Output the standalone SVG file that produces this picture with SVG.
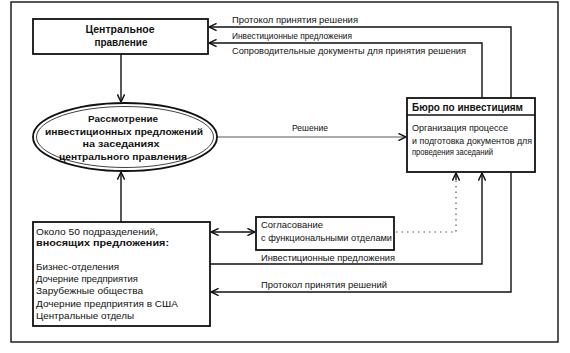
<svg xmlns="http://www.w3.org/2000/svg" width="570" height="353" viewBox="0 0 570 353">
<defs>
<marker id="arr" viewBox="0 0 10 10" refX="9.5" refY="5" markerWidth="8" markerHeight="8" markerUnits="userSpaceOnUse" orient="auto-start-reverse">
<path d="M0,0.5 L9.5,5 L0,9.5" fill="none" stroke="#111" stroke-width="1.8"/>
</marker>
<style>
text{font-family:"Liberation Sans",Arial,sans-serif;fill:#111}
.s{font-size:9px}
.m{font-size:9.5px}
.b{font-size:10px;font-weight:bold}
.e{font-size:9px;font-weight:bold}
.box{fill:#fff;stroke:#111;stroke-width:1.8}
.ln{fill:none;stroke:#111;stroke-width:1.4}
.thin{fill:none;stroke:#444;stroke-width:0.9}
.dot{fill:none;stroke:#555;stroke-width:1.2;stroke-dasharray:1.5 4}
</style>
</defs>
<rect x="0" y="0" width="570" height="353" fill="#fff"/>
<rect id="frame" x="11" y="2" width="547" height="340" fill="none" stroke="#111" stroke-width="1.4"/>

<g id="connectors">
<path class="ln" d="M121,54 L121,102" marker-end="url(#arr)"/>
<path class="ln" d="M121,222 L121,172" marker-end="url(#arr)"/>
<path class="thin" d="M217,137 L406,137" marker-end="url(#arr)"/>
<path class="ln" d="M511,98 L511,27 L209,27" marker-end="url(#arr)"/>
<path class="ln" d="M482,98 L482,43 L209,43" marker-end="url(#arr)"/>
<path class="ln" d="M211,232 L255,232" marker-start="url(#arr)" marker-end="url(#arr)"/>
<path class="dot" d="M396,232 L456,232 L456,176"/>
<path class="ln" d="M456,180 L456,173" marker-end="url(#arr)"/>
<path class="ln" d="M210,264 L482,264 L482,173" marker-end="url(#arr)"/>
<path class="ln" d="M511,172 L511,292 L211,292" marker-end="url(#arr)"/>
<text class="s" x="232" y="23" textLength="126" lengthAdjust="spacingAndGlyphs">Протокол принятия решения</text>
<text class="s" x="232" y="39" textLength="120" lengthAdjust="spacingAndGlyphs">Инвестиционные предложения</text>
<text class="s" x="232" y="54" textLength="234" lengthAdjust="spacingAndGlyphs">Сопроводительные документы для принятия решения</text>
<text class="s" x="292" y="131" textLength="36" lengthAdjust="spacingAndGlyphs">Решение</text>
<text class="s" x="261" y="261" textLength="134" lengthAdjust="spacingAndGlyphs">Инвестиционные предложения</text>
<text class="s" x="261" y="288" textLength="126" lengthAdjust="spacingAndGlyphs">Протокол принятия решений</text>
</g>

<g id="central">
<rect class="box" x="33" y="19" width="175" height="35"/>
<text class="b" x="120" y="33" text-anchor="middle" textLength="69" lengthAdjust="spacingAndGlyphs">Центральное</text>
<text class="b" x="121" y="46" text-anchor="middle" textLength="53" lengthAdjust="spacingAndGlyphs">правление</text>
</g>

<g id="review">
<ellipse cx="125" cy="137" rx="92" ry="34" fill="#fff" stroke="#111" stroke-width="1.8"/>
<ellipse cx="125" cy="137" rx="88.5" ry="30.5" fill="none" stroke="#111" stroke-width="0.8"/>
<text class="e" x="123" y="122" text-anchor="middle" textLength="70" lengthAdjust="spacingAndGlyphs">Рассмотрение</text>
<text class="e" x="124" y="135" text-anchor="middle" textLength="158" lengthAdjust="spacingAndGlyphs">инвестиционных предложений</text>
<text class="e" x="121" y="147" text-anchor="middle" textLength="77" lengthAdjust="spacingAndGlyphs">на заседаниях</text>
<text class="e" x="123" y="160" text-anchor="middle" textLength="128" lengthAdjust="spacingAndGlyphs">центрального правления</text>
</g>

<g id="bureau">
<rect class="box" x="407" y="98" width="128" height="74"/>
<line x1="407" y1="115" x2="535" y2="115" stroke="#111" stroke-width="1.4"/>
<text class="b" x="412" y="111" textLength="111" lengthAdjust="spacingAndGlyphs">Бюро по инвестициям</text>
<text class="m" x="412" y="131" textLength="96" lengthAdjust="spacingAndGlyphs">Организация процессе</text>
<text class="m" x="412" y="144" textLength="120" lengthAdjust="spacingAndGlyphs">и подготовка документов для</text>
<text class="m" x="412" y="155" textLength="81" lengthAdjust="spacingAndGlyphs">проведения заседаний</text>
</g>

<g id="coordination">
<rect class="box" x="256" y="217" width="138" height="33"/>
<text class="m" x="261" y="228" textLength="62" lengthAdjust="spacingAndGlyphs">Согласование</text>
<text class="m" x="261" y="241" textLength="131" lengthAdjust="spacingAndGlyphs">с функциональными отделами</text>
</g>

<g id="units">
<rect class="box" x="33" y="222" width="177" height="104"/>
<text class="m" x="36" y="235" textLength="122" lengthAdjust="spacingAndGlyphs">Около 50 подразделений,</text>
<text class="m" x="36" y="246" font-weight="bold" textLength="133" lengthAdjust="spacingAndGlyphs">вносящих предложения:</text>
<text class="m" x="36" y="270" textLength="83" lengthAdjust="spacingAndGlyphs">Бизнес-отделения</text>
<text class="m" x="36" y="282" textLength="102" lengthAdjust="spacingAndGlyphs">Дочерние предприятия</text>
<text class="m" x="36" y="294" textLength="107" lengthAdjust="spacingAndGlyphs">Зарубежные общества</text>
<text class="m" x="36" y="307" textLength="142" lengthAdjust="spacingAndGlyphs">Дочерние предприятия в США</text>
<text class="m" x="36" y="319" textLength="98" lengthAdjust="spacingAndGlyphs">Центральные отделы</text>
</g>
</svg>
